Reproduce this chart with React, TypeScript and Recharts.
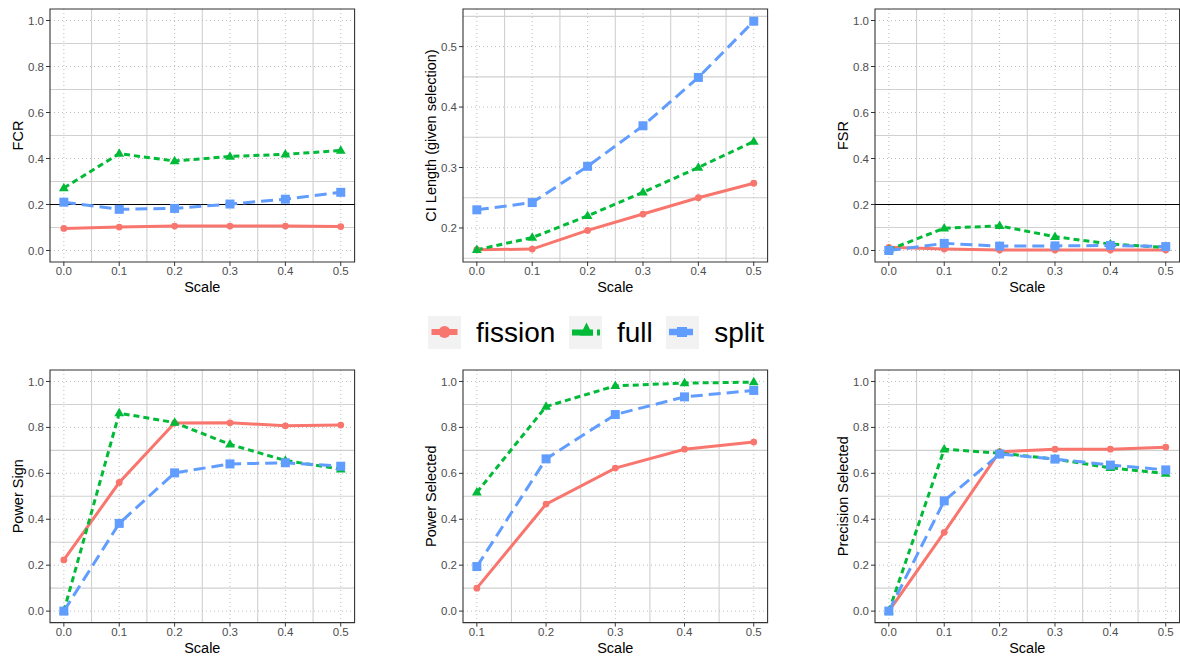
import React from 'react';
import { LineChart, Line, XAxis, YAxis, CartesianGrid, ReferenceLine, ReferenceArea } from 'recharts';

const FONT = '"Liberation Sans", Arial, Helvetica, sans-serif';
const COLORS: Record<string, string> = { fission: '#F8766D', full: '#00BA38', split: '#619CFF' };
const seriesNames = ['fission', 'full', 'split'];

const scale = [0, 0.1, 0.2, 0.3, 0.4, 0.5];
const scaleSel = [0.1, 0.2, 0.3, 0.4, 0.5];

const fcrFission = [0.096, 0.102, 0.106, 0.106, 0.106, 0.104];
const fcrFull = [0.272, 0.421, 0.389, 0.409, 0.418, 0.435];
const fcrSplit = [0.21, 0.179, 0.183, 0.202, 0.223, 0.253];

const ciFission = [0.164, 0.165, 0.196, 0.223, 0.25, 0.274];
const ciFull = [0.164, 0.184, 0.22, 0.259, 0.3, 0.343];
const ciSplit = [0.23, 0.242, 0.302, 0.369, 0.449, 0.542];

const fsrFission = [0.014, 0.006, 0.002, 0.002, 0.002, 0.002];
const fsrFull = [0.003, 0.097, 0.107, 0.06, 0.028, 0.013];
const fsrSplit = [0.0, 0.031, 0.019, 0.02, 0.022, 0.017];

const psFission = [0.223, 0.56, 0.819, 0.82, 0.807, 0.81];
const psFull = [0.0, 0.862, 0.821, 0.726, 0.656, 0.618];
const psSplit = [0.0, 0.382, 0.602, 0.641, 0.646, 0.631];

const pselFission = [0.1, 0.466, 0.623, 0.705, 0.736];
const pselFull = [0.517, 0.891, 0.981, 0.993, 0.997];
const pselSplit = [0.194, 0.663, 0.856, 0.933, 0.961];

const precFission = [0.0, 0.343, 0.694, 0.705, 0.705, 0.714];
const precFull = [0.0, 0.705, 0.688, 0.662, 0.624, 0.599];
const precSplit = [0.0, 0.48, 0.684, 0.662, 0.636, 0.615];

const xTicksAll = [0, 0.1, 0.2, 0.3, 0.4, 0.5];
const xMinorAll = [0.05, 0.15, 0.25, 0.35, 0.45];
const xTicksSel = [0.1, 0.2, 0.3, 0.4, 0.5];
const xMinorSel = [0.15, 0.25, 0.35, 0.45];
const yTicksUnit = [0, 0.2, 0.4, 0.6, 0.8, 1.0];
const yMinorUnit = [0.1, 0.3, 0.5, 0.7, 0.9];
const yTicksCI = [0.2, 0.3, 0.4, 0.5];
const yMinorCI = [0.15, 0.25, 0.35, 0.45, 0.55];

function makeRows(xs: number[], a: number[], b: number[], c: number[]) {
  return xs.map((x, i) => ({ x, fission: a[i], full: b[i], split: c[i] }));
}

const CircleDot = (props: any) => {
  const { cx, cy } = props;
  if (cx == null || cy == null) return <g />;
  return <circle cx={cx} cy={cy} r={3.4} fill={COLORS.fission} />;
};
const TriDot = (props: any) => {
  const { cx, cy } = props;
  if (cx == null || cy == null) return <g />;
  return (
    <polygon
      points={`${cx},${cy - 5.3} ${cx + 4.9},${cy + 3.2} ${cx - 4.9},${cy + 3.2}`}
      fill={COLORS.full}
    />
  );
};
const SqDot = (props: any) => {
  const { cx, cy } = props;
  if (cx == null || cy == null) return <g />;
  return <rect x={cx - 4.5} y={cy - 4.5} width={9} height={9} fill={COLORS.split} />;
};

const PLOT_W = 304.6;
const ML = 50;
const MT = 8;
const XH = 40;
const MR = 6;

type PanelProps = {
  left: number;
  top: number;
  height: number;
  data: any[];
  xDomain: [number, number];
  xTicks: number[];
  xMinor: number[];
  yDomain: [number, number];
  yTicks: number[];
  yMinor: number[];
  yLabel: string;
  hline?: number;
};

function Panel(p: PanelProps) {
  const W = ML + PLOT_W + MR;
  const H = MT + p.height + XH;
  const yLabelRender = (lp: any) => {
    const vb = lp.viewBox || { x: 0, y: MT, width: ML, height: p.height };
    const x = vb.x + vb.width - 32;
    const y = vb.y + vb.height / 2;
    return (
      <text
        x={x}
        y={y}
        transform={`rotate(-90, ${x}, ${y})`}
        textAnchor="middle"
        dominantBaseline="central"
        fontSize={14.5}
        fontFamily={FONT}
        fill="#000"
      >
        {p.yLabel}
      </text>
    );
  };
  const xLabelRender = (lp: any) => {
    const vb = lp.viewBox || { x: ML, y: MT + p.height, width: PLOT_W, height: XH };
    return (
      <text
        x={vb.x + vb.width / 2}
        y={vb.y + 30}
        textAnchor="middle"
        fontSize={14.5}
        fontFamily={FONT}
        fill="#000"
      >
        Scale
      </text>
    );
  };
  return (
    <div style={{ position: 'absolute', left: p.left - ML, top: p.top - MT }}>
      <LineChart width={W} height={H} data={p.data} margin={{ top: MT, right: MR, bottom: 0, left: 0 }}>
        <CartesianGrid
          horizontalValues={p.yMinor}
          verticalValues={p.xMinor}
          stroke="#D0D0D0"
          strokeWidth={1.1}
        />
        <CartesianGrid
          horizontalValues={p.yTicks}
          verticalValues={p.xTicks}
          stroke="#BDBDBD"
          strokeWidth={1}
          strokeDasharray="1 3"
        />
        <XAxis
          type="number"
          dataKey="x"
          domain={p.xDomain}
          ticks={p.xTicks}
          allowDataOverflow
          interval={0}
          height={XH}
          axisLine={false}
          tickLine={{ stroke: '#333333', strokeWidth: 1 }}
          tickSize={4}
          tickMargin={1}
          tick={{ fill: '#4D4D4D', fontSize: 11.5, fontFamily: FONT }}
          tickFormatter={(v: number) => v.toFixed(1)}
          label={xLabelRender}
        />
        <YAxis
          type="number"
          domain={p.yDomain}
          ticks={p.yTicks}
          allowDataOverflow
          interval={0}
          width={ML}
          axisLine={false}
          tickLine={{ stroke: '#333333', strokeWidth: 1 }}
          tickSize={4}
          tickMargin={2}
          tick={{ fill: '#4D4D4D', fontSize: 11.5, fontFamily: FONT }}
          tickFormatter={(v: number) => v.toFixed(1)}
          label={yLabelRender}
        />
        {p.hline !== undefined && (
          <ReferenceLine y={p.hline} stroke="#000000" strokeWidth={1.1} ifOverflow="visible" />
        )}
        <Line
          dataKey="fission"
          stroke={COLORS.fission}
          strokeWidth={3}
          dot={CircleDot}
          activeDot={false}
          isAnimationActive={false}
        />
        <Line
          dataKey="full"
          stroke={COLORS.full}
          strokeWidth={3}
          strokeDasharray="6 4"
          dot={TriDot}
          activeDot={false}
          isAnimationActive={false}
        />
        <Line
          dataKey="split"
          stroke={COLORS.split}
          strokeWidth={3}
          strokeDasharray="12 6"
          dot={SqDot}
          activeDot={false}
          isAnimationActive={false}
        />
        <ReferenceArea
          x1={p.xDomain[0]}
          x2={p.xDomain[1]}
          y1={p.yDomain[0]}
          y2={p.yDomain[1]}
          fill="none"
          fillOpacity={0}
          stroke="#333333"
          strokeWidth={1.1}
          ifOverflow="visible"
        />
      </LineChart>
    </div>
  );
}

function LegendKey({ name }: { name: string }) {
  const c = COLORS[name];
  return (
    <svg width={33} height={33} style={{ display: 'block' }}>
      <rect x={0} y={0} width={33} height={33} fill="#F2F2F2" />
      {name === 'fission' && (
        <g>
          <line x1={3.5} x2={29.5} y1={16} y2={16} stroke={c} strokeWidth={6} />
          <circle cx={16.5} cy={16} r={6} fill={c} />
        </g>
      )}
      {name === 'full' && (
        <g>
          <line x1={3} x2={31} y1={16.5} y2={16.5} stroke={c} strokeWidth={6} strokeDasharray="21 4" />
          <polygon points="17.5,6.5 24,19.5 11,19.5" fill={c} />
        </g>
      )}
      {name === 'split' && (
        <g>
          <line x1={3} x2={30} y1={16} y2={16} stroke={c} strokeWidth={6.5} strokeDasharray="24 6" />
          <rect x={11} y={11} width={10} height={10} fill={c} />
        </g>
      )}
    </svg>
  );
}

export default function App() {
  const topY = 8.5;
  const topH = 253;
  const botY = 370.2;
  const botH = 252.6;
  const allDom: [number, number] = [-0.025, 0.525];
  const selDom: [number, number] = [0.08, 0.52];
  const unitDom: [number, number] = [-0.05, 1.05];
  return (
    <div
      style={{
        position: 'absolute',
        left: 0,
        top: 0,
        width: 1180,
        height: 656,
        overflow: 'hidden',
        background: '#fff',
        fontFamily: FONT,
      }}
    >
      <Panel left={50.2} top={topY} height={topH} data={makeRows(scale, fcrFission, fcrFull, fcrSplit)}
        xDomain={allDom} xTicks={xTicksAll} xMinor={xMinorAll}
        yDomain={unitDom} yTicks={yTicksUnit} yMinor={yMinorUnit} yLabel="FCR" hline={0.2} />
      <Panel left={462.8} top={topY} height={topH} data={makeRows(scale, ciFission, ciFull, ciSplit)}
        xDomain={allDom} xTicks={xTicksAll} xMinor={xMinorAll}
        yDomain={[0.1437, 0.5622]} yTicks={yTicksCI} yMinor={yMinorCI} yLabel="CI Length (given selection)" />
      <Panel left={875.2} top={topY} height={topH} data={makeRows(scale, fsrFission, fsrFull, fsrSplit)}
        xDomain={allDom} xTicks={xTicksAll} xMinor={xMinorAll}
        yDomain={unitDom} yTicks={yTicksUnit} yMinor={yMinorUnit} yLabel="FSR" hline={0.2} />
      <Panel left={50.2} top={botY} height={botH} data={makeRows(scale, psFission, psFull, psSplit)}
        xDomain={allDom} xTicks={xTicksAll} xMinor={xMinorAll}
        yDomain={unitDom} yTicks={yTicksUnit} yMinor={yMinorUnit} yLabel="Power Sign" />
      <Panel left={462.9} top={botY} height={botH} data={makeRows(scaleSel, pselFission, pselFull, pselSplit)}
        xDomain={selDom} xTicks={xTicksSel} xMinor={xMinorSel}
        yDomain={unitDom} yTicks={yTicksUnit} yMinor={yMinorUnit} yLabel="Power Selected" />
      <Panel left={875.2} top={botY} height={botH} data={makeRows(scale, precFission, precFull, precSplit)}
        xDomain={allDom} xTicks={xTicksAll} xMinor={xMinorAll}
        yDomain={unitDom} yTicks={yTicksUnit} yMinor={yMinorUnit} yLabel="Precision Selected" />
      <div
        style={{
          position: 'absolute',
          left: 428,
          top: 316,
          height: 33,
          display: 'flex',
          alignItems: 'center',
          whiteSpace: 'nowrap',
        }}
      >
        {seriesNames.map((n, i) => (
          <div key={n} style={{ display: 'flex', alignItems: 'center', marginLeft: i === 0 ? 0 : 13.5 }}>
            <LegendKey name={n} />
            <span style={{ marginLeft: 15, fontSize: 28, lineHeight: '33px', color: '#000', fontFamily: FONT }}>{n}</span>
          </div>
        ))}
      </div>
    </div>
  );
}
